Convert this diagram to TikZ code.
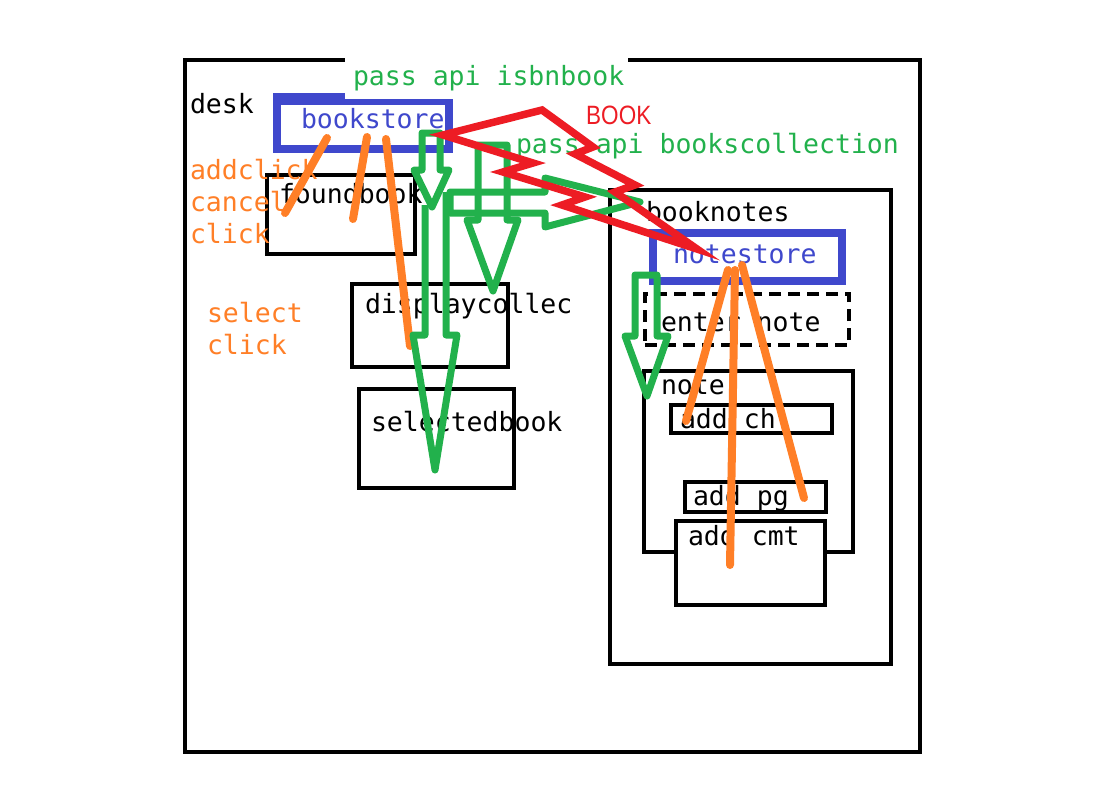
\documentclass[tikz,border=0pt]{standalone}
\usepackage{fontspec}
\newfontfamily\mono{DejaVu Sans Mono}
\newfontfamily\sansn[FakeStretch=0.85]{Liberation Sans}
\definecolor{pblue}{HTML}{3F48CC}
\definecolor{pgreen}{HTML}{22B14C}
\definecolor{pred}{HTML}{ED1C24}
\definecolor{porange}{HTML}{FF7F27}
\tikzset{
  box/.style={draw=black, line width=4.5pt, inner sep=0pt, outer sep=0pt},
  bluebox/.style={draw=pblue, line width=8pt, inner sep=0pt, outer sep=0pt},
  txt/.style={anchor=base west, inner sep=0pt, outer sep=0pt, font=\mono\fontsize{26.5pt}{30pt}\selectfont},
  ostroke/.style={draw=porange, line width=8pt, line cap=round},
  garrow/.style={draw=pgreen, line width=7pt, line join=round},
  rbolt/.style={draw=pred, line width=7.5pt, line join=miter},
}
\begin{document}
\begin{tikzpicture}[x=1pt,y=-1pt]
\useasboundingbox[fill=white] (0,0) rectangle (1116,808);

% outer desk
\node[box, minimum width=735pt, minimum height=692pt] (desk) at (552.5,406) {};
% bookstore
\node[bluebox, minimum width=172pt, minimum height=52pt] (bookstore) at (363,123) {};
\fill[pblue] (273,93) rectangle (453,105);
\node[fill=white, inner sep=0pt, minimum width=283pt, minimum height=59pt] (isbnbg) at (486.5,69.5) {};

% boxes
\node[box, minimum width=148pt, minimum height=79pt] (foundbook) at (341,214.5) {};
\node[box, minimum width=156pt, minimum height=83pt] (displaycollec) at (430,325.5) {};
\node[box, minimum width=155pt, minimum height=99pt] (selectedbook) at (436.5,438.5) {};
\node[box, minimum width=281pt, minimum height=474pt] (booknotes) at (750.5,427) {};
\node[bluebox, minimum width=189pt, minimum height=48pt] (notestore) at (747.5,257) {};
\node[box, dash pattern=on 12pt off 7pt, minimum width=204pt, minimum height=51pt] (enternote) at (747,319.5) {};
\node[box, minimum width=209pt, minimum height=181pt] (note) at (748.5,461.5) {};
\node[box, minimum width=161pt, minimum height=28pt] (addch) at (751.5,419) {};
\node[box, minimum width=141pt, minimum height=30pt] (addpg) at (755.5,497) {};
\node[box, fill=white, minimum width=149pt, minimum height=84pt] (addcmt) at (750.5,563) {};

% texts
\node[txt] (tdesk) at (190,113) {desk};
\node[txt, text=pgreen] (tisbn) at (353,85) {pass api isbnbook};
\node[txt, text=pblue] (tbookstore) at (301,128) {bookstore};
\node[anchor=base west, inner sep=0pt, text=pred, font=\sansn\fontsize{26.5pt}{30pt}\selectfont] (tBOOK) at (586,124) {BOOK};
\node[txt, text=pgreen] (tcoll) at (516,153) {pass api bookscollection};
\node[txt, text=porange] (taddclick) at (190,179) {addclick};
\node[txt, text=porange] (tcancel) at (190,211) {cancel};
\node[txt, text=porange] (tclick1) at (190,243) {click};
\node[txt, text=porange] (tselect) at (207,322) {select};
\node[txt, text=porange] (tclick2) at (207,354) {click};
\node[txt] (tfoundbook) at (279,203) {foundbook};
\node[txt] (tdisplay) at (365,313) {displaycollec};
\node[txt] (tselected) at (371,431) {selectedbook};
\node[txt] (tbooknotes) at (646,221) {booknotes};
\node[txt, text=pblue] (tnotestore) at (673,263) {notestore};
\node[txt] (tenter) at (661,331) {enter note};
\node[txt] (tnote) at (661,394) {note};
\node[txt] (taddch) at (680,428) {add ch};
\node[txt] (taddpg) at (693,505) {add pg};
\node[txt] (taddcmt) at (688,545) {add cmt};

% orange strokes
\coordinate (o1a) at (327,138); \coordinate (o1b) at (285,213);
\coordinate (o2a) at (367,137); \coordinate (o2b) at (353,219);
\coordinate (o3a) at (386,139); \coordinate (o3b) at (410,346);
\coordinate (o4a) at (728,270); \coordinate (o4b) at (686,421);
\coordinate (o5a) at (735,270); \coordinate (o5b) at (730,565);
\coordinate (o6a) at (742,265); \coordinate (o6b) at (804,498);
\draw[ostroke] (o1a) -- (o1b);
\draw[ostroke] (o2a) -- (o2b);
\draw[ostroke] (o3a) -- (o3b);
\draw[ostroke] (o4a) -- (o4b);
\draw[ostroke] (o5a) -- (o5b);
\draw[ostroke] (o6a) -- (o6b);

% green block arrows
\draw[garrow] (422,133) -- (440,133) -- (440,170) -- (449,170) -- (432,207) -- (414,170) -- (422,170) -- cycle;
\draw[garrow] (425,205) -- (425,335) -- (413,335) -- (435,470) -- (457,335) -- (446,335) -- (446,192);
\draw[garrow] (450,192) -- (545,192) -- (545,178) -- (640,202) -- (545,227) -- (545,213) -- (450,213) -- cycle;
\draw[garrow] (478,145) -- (507,145) -- (507,220) -- (518,220) -- (493,291) -- (467,220) -- (478,220) -- cycle;
\draw[garrow] (635,275) -- (657,275) -- (657,336) -- (668,336) -- (647,396) -- (625,336) -- (635,336) -- cycle;

% red bolt
\draw[rbolt] (443,135) -- (542,110) -- (593,147) -- (575,154) -- (635,185) -- (615,192) -- (697,249)
  -- (562,205) -- (585,197) -- (503,172) -- (533,163) -- cycle;
\end{tikzpicture}
\end{document}
